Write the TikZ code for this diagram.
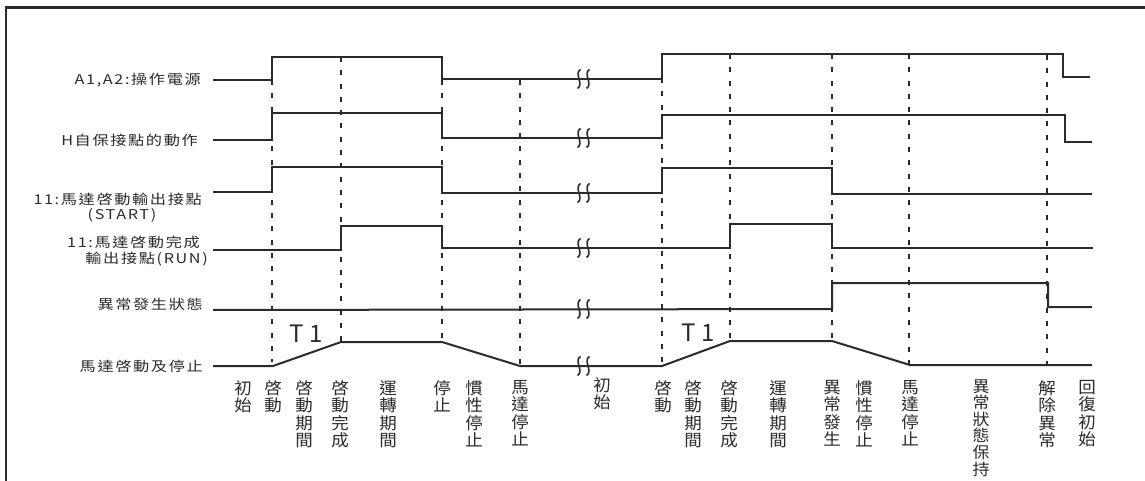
\documentclass[tikz,border=0pt]{standalone}
\usepackage{fontspec}
\setmainfont{Noto Sans CJK TC}
\newfontfamily\labf[FakeStretch=1.2,LetterSpace=12]{Noto Sans CJK TC}
\newfontfamily\vf[FakeStretch=1.06]{Noto Sans CJK TC}
\newfontfamily\tf[LetterSpace=25]{Noto Sans CJK TC}
\definecolor{ink}{HTML}{2B2B28}
\begin{document}
\begin{tikzpicture}[x=1pt,y=-1pt,
  sig/.style={line width=2pt, draw=ink, line join=miter},
  guide/.style={line width=2pt, draw=ink, dash pattern=on 5pt off 8.3pt},
  frm/.style={line width=2.5pt, draw=ink},
  rowlab/.style={font=\labf\fontsize{13.5}{13.5}\selectfont, text=ink, inner sep=0pt, anchor=east},
  vlab/.style={font=\vf\fontsize{16.5}{17.5}\selectfont, text=ink, inner sep=0pt, anchor=north, align=center},
  tlab/.style={font=\tf\fontsize{24}{24}\selectfont, text=ink, inner sep=0pt},
  brk/.style={line width=1.6pt, draw=ink}]
\useasboundingbox (0,0) rectangle (1145,481);
\fill[white] (0,0) rectangle (1145,481);
% frame
\draw[frm] (6,481) -- (6,7.5) -- (1145,7.5);

% dashed guides
\draw[guide] (272,80) -- (272,362);
\draw[guide] (341,57) -- (341,342);
\draw[guide] (442,80) -- (442,342);
\draw[guide] (520,80) -- (520,366);
\draw[guide] (662,78) -- (662,366);
\draw[guide] (730,54) -- (730,341);
\draw[guide] (832,54) -- (832,341);
\draw[guide] (909,54) -- (909,365);
\draw[guide] (1047,55) -- (1047,365);

% waveforms
\draw[sig] (213,80) -- (272,80) -- (272,57) -- (442,57) -- (442,79) -- (662,79) -- (662,54) -- (1063,54) -- (1063,77) -- (1090,77);
\draw[sig] (213,140) -- (272,140) -- (272,113) -- (442,113) -- (442,138) -- (662,138) -- (662,115) -- (1065,115) -- (1065,142) -- (1092,142);
\draw[sig] (213,192) -- (272,192) -- (272,167) -- (442,167) -- (442,193) -- (662,193) -- (662,168) -- (832,168) -- (832,194) -- (1092,194);
\draw[sig] (213,250) -- (341,250) -- (341,226) -- (442,226) -- (442,248) -- (730,248) -- (730,224) -- (832,224) -- (832,248) -- (1093,248);
\draw[sig] (213,310) -- (832,309) -- (832,283) -- (1048,283) -- (1048,307) -- (1092,307);
\draw[sig] (213,366) -- (273,366) -- (341,342) -- (442,342) -- (520,366) -- (662,366) -- (730,341) -- (832,341) -- (910,365) -- (1092,365);

% break marks
\foreach \yy in {79,138,193,248,309,366}{
  \foreach \xx in {579,588}{
    \draw[brk] (\xx+1.5,\yy-9.5) .. controls (\xx-5.5,\yy-5) and (\xx+5.5,\yy+5) .. (\xx-1.5,\yy+9.5);
  }
}

% row labels
\node[rowlab] (l1) at (201,80) {A1,A2:操作電源};
\node[rowlab] (l2) at (198,140) {H自保接點的動作};
\node[rowlab] (l3a) at (202,199) {11:馬達啓動輸出接點};
\node[rowlab,anchor=center] (l3b) at (122,215) {(START)};
\node[rowlab] (l4a) at (200,242) {11:馬達啓動完成};
\node[rowlab] (l4b) at (208,259) {輸出接點(RUN)};
\node[rowlab] (l5) at (203,304) {異常發生狀態};
\node[rowlab] (l6) at (203,366) {馬達啓動及停止};

% T1
\node[tlab] (t1) at (306,334) {T1};
\node[tlab] (t2) at (698,333) {T1};

% bottom vertical labels
\node[vlab] (b1) at (243,380) {初\\始};
\node[vlab] (b2) at (273,380) {啓\\動};
\node[vlab] (b3) at (304,380) {啓\\動\\期\\間};
\node[vlab] (b4) at (340,380) {啓\\動\\完\\成};
\node[vlab] (b5) at (388,380) {運\\轉\\期\\間};
\node[vlab] (b6) at (442,380) {停\\止};
\node[vlab] (b7) at (474,380) {慣\\性\\停\\止};
\node[vlab] (b8) at (520,380) {馬\\達\\停\\止};
\node[vlab] (b9) at (602,377) {初\\始};
\node[vlab] (b10) at (663,380) {啓\\動};
\node[vlab] (b11) at (693,380) {啓\\動\\期\\間};
\node[vlab] (b12) at (729,380) {啓\\動\\完\\成};
\node[vlab] (b13) at (778,380) {運\\轉\\期\\間};
\node[vlab] (b14) at (832,380) {異\\常\\發\\生};
\node[vlab] (b15) at (864,380) {慣\\性\\停\\止};
\node[vlab] (b16) at (910,380) {馬\\達\\停\\止};
\node[vlab,font=\vf\fontsize{16}{16.6}\selectfont] (b17) at (981,379) {異\\常\\狀\\態\\保\\持};
\node[vlab] (b18) at (1047,380) {解\\除\\異\\常};
\node[vlab] (b19) at (1087,380) {回\\復\\初\\始};
\end{tikzpicture}
\end{document}
